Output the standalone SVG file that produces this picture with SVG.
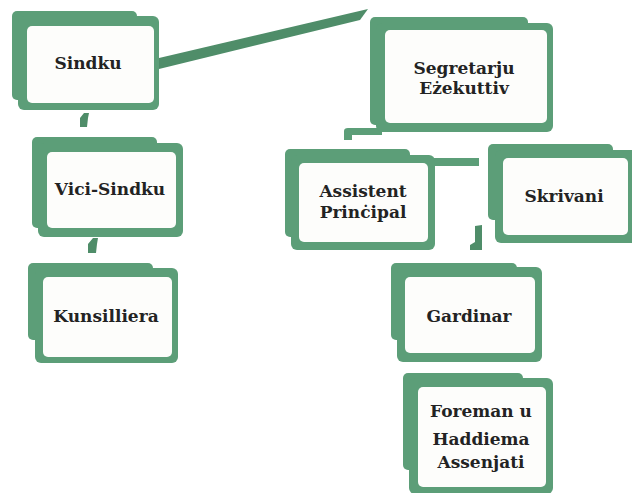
<svg xmlns="http://www.w3.org/2000/svg" width="632" height="493" viewBox="0 0 632 493">
<style>
.g{fill:#5c9e78}
.c{fill:#4f8d69}
.w{fill:#fdfdfb}
.t{font-family:"DejaVu Serif","Liberation Serif",serif;font-weight:bold;font-size:17px;fill:#232323;text-anchor:middle}
</style>
<rect width="632" height="493" fill="#ffffff"/>
<g id="connectors">
<polygon class="c" points="159,58 368,9 360,20 159,69"/>
<polygon class="c" points="80,127 80,118 84,113 89,113 88,118 87,127"/>
<polygon class="c" points="88,253 88,244 93,238 98,238 97,244 96,253"/>
<path class="g" d="M344,140 L344,131 Q344,128 348,128 L382,128 L382,135 L352,135 L352,140 Z"/>
<rect class="g" x="433" y="158" width="46" height="8"/>
<polygon class="c" points="475,226 482,225 482,250 470,250 470,245 475,242"/>
</g>
<g id="sindku">
<rect class="g" x="12" y="11" width="125" height="89" rx="5"/>
<rect class="g" x="18" y="16" width="141" height="94" rx="6"/>
<rect class="w" x="27" y="26" width="127" height="77" rx="5"/>
<text class="t" x="88" y="69">Sindku</text>
</g>
<g id="segretarju">
<rect class="g" x="370" y="17" width="158" height="108" rx="5"/>
<rect class="g" x="376" y="23" width="177" height="109" rx="6"/>
<rect class="w" x="385" y="30" width="162" height="93" rx="5"/>
<text class="t" x="464" y="74">Segretarju</text>
<text class="t" x="464" y="94">Eżekuttiv</text>
</g>
<g id="vici-sindku">
<rect class="g" x="32" y="137" width="125" height="91" rx="5"/>
<rect class="g" x="38" y="143" width="145" height="94" rx="6"/>
<rect class="w" x="47" y="152" width="129" height="76" rx="5"/>
<text class="t" x="110" y="195">Vici-Sindku</text>
</g>
<g id="kunsilliera">
<rect class="g" x="28" y="263" width="125" height="77" rx="5"/>
<rect class="g" x="35" y="268" width="143" height="95" rx="6"/>
<rect class="w" x="43" y="277" width="129" height="80" rx="5"/>
<text class="t" x="106" y="322">Kunsilliera</text>
</g>
<g id="assistent">
<rect class="g" x="285" y="149" width="125" height="88" rx="5"/>
<rect class="g" x="291" y="155" width="144" height="95" rx="6"/>
<rect class="w" x="299" y="163" width="129" height="79" rx="5"/>
<text class="t" x="363" y="197">Assistent</text>
<text class="t" x="363" y="218">Prinċipal</text>
</g>
<g id="skrivani">
<rect class="g" x="488" y="144" width="125" height="76" rx="5"/>
<rect class="g" x="495" y="150" width="145" height="93" rx="6"/>
<rect class="w" x="503" y="158" width="125" height="77" rx="5"/>
<text class="t" x="564" y="202">Skrivani</text>
</g>
<g id="gardinar">
<rect class="g" x="391" y="263" width="126" height="77" rx="5"/>
<rect class="g" x="397" y="267" width="145" height="95" rx="6"/>
<rect class="w" x="405" y="277" width="130" height="76" rx="5"/>
<text class="t" x="469" y="322">Gardinar</text>
</g>
<g id="foreman">
<rect class="g" x="403" y="373" width="120" height="97" rx="5"/>
<rect class="g" x="409" y="378" width="144" height="116" rx="6"/>
<rect class="w" x="418" y="387" width="128" height="100" rx="5"/>
<text class="t" x="481" y="417">Foreman u</text>
<text class="t" x="481" y="445">Haddiema</text>
<text class="t" x="481" y="468">Assenjati</text>
</g>
</svg>
